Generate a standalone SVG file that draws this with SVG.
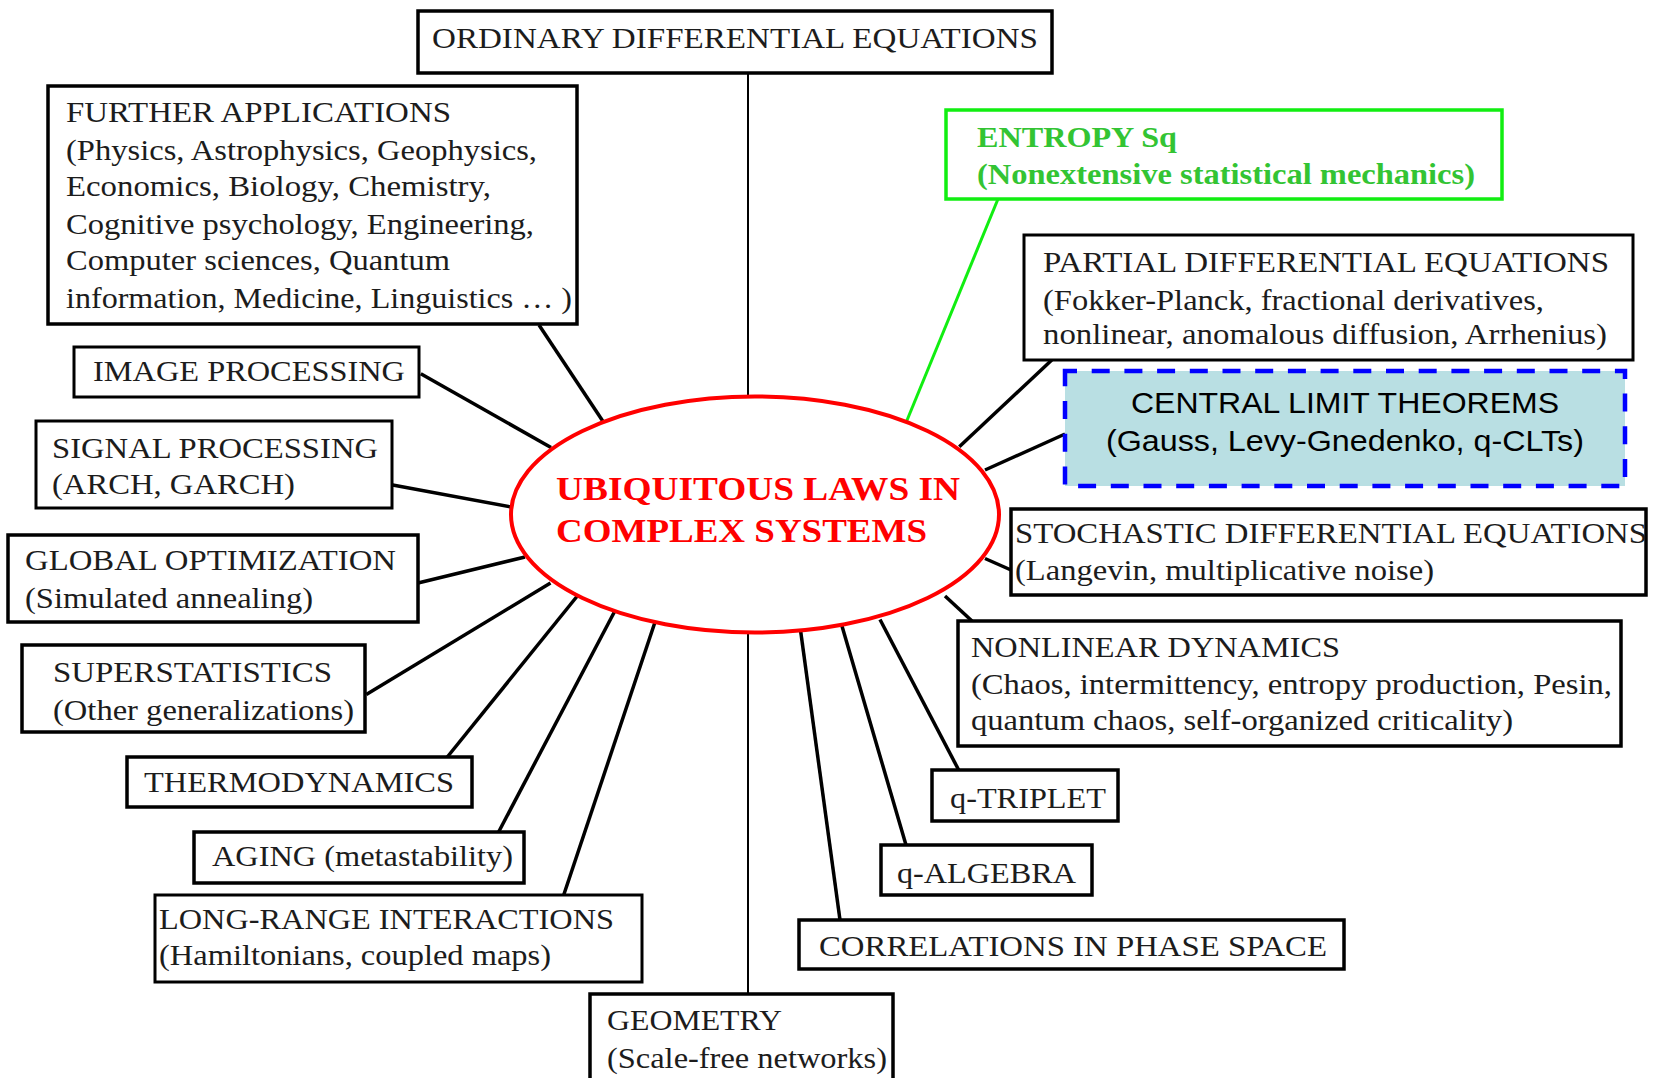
<svg xmlns="http://www.w3.org/2000/svg" width="1654" height="1078" viewBox="0 0 1654 1078">
<style>
.box{fill:#fff;stroke:#000;stroke-width:3.5}
.thin{stroke-width:3}
.t{font-family:"Liberation Serif","Times New Roman",serif;font-size:30px;fill:#1c1c1c}
.conn line{stroke:#000;stroke-width:3.5;stroke-linecap:butt}
.conn line.v{stroke-width:2}
.conn line.g{stroke:#11ee11;stroke-width:3}
.hub{fill:#fff;stroke:#ff0000;stroke-width:4}
.hubt{font-family:"Liberation Serif","Times New Roman",serif;font-size:34px;font-weight:bold;fill:#ff0000}
.gt{font-family:"Liberation Serif","Times New Roman",serif;font-size:30px;font-weight:bold;fill:#33c433}
.clt{fill:#b9dfe3;stroke:#0000ff;stroke-width:4.5;stroke-dasharray:18 14.7;stroke-dashoffset:6}
.st{font-family:"Liberation Sans",Arial,sans-serif;font-size:29px;fill:#000}
</style>
<rect width="1654" height="1078" fill="#fff"/>
<g id="connectors" class="conn">
<line class="v" x1="748" y1="73" x2="748" y2="397"/>
<line class="v" x1="748" y1="631" x2="748" y2="994"/>
<line x1="539" y1="325" x2="603.4" y2="422"/>
<line x1="420.8" y1="373.7" x2="551" y2="447.5"/>
<line x1="392.7" y1="485" x2="511" y2="507"/>
<line x1="418" y1="583" x2="525" y2="557"/>
<line x1="366.3" y1="694.4" x2="550.5" y2="583"/>
<line x1="447.3" y1="757" x2="577.3" y2="596"/>
<line x1="498.6" y1="832" x2="616.7" y2="607.5"/>
<line x1="563.7" y1="895" x2="655.7" y2="620"/>
<line x1="800.5" y1="630" x2="840" y2="920"/>
<line x1="840.5" y1="621" x2="906" y2="845"/>
<line x1="880" y1="619.5" x2="958.7" y2="770"/>
<line x1="945" y1="596" x2="972" y2="621"/>
<line x1="985" y1="558.5" x2="1011" y2="570"/>
<line x1="985" y1="470" x2="1065" y2="434"/>
<line x1="959.3" y1="446.7" x2="1051.8" y2="360"/>
<line class="g" x1="906" y1="422.7" x2="998" y2="199"/>
</g>
<g id="n-ode"><rect class="box" x="418" y="11" width="634" height="62"/>
<text class="t" x="432" y="48" textLength="606" lengthAdjust="spacingAndGlyphs">ORDINARY DIFFERENTIAL EQUATIONS</text></g>
<g id="n-further"><rect class="box" x="48" y="86" width="529" height="238"/>
<text class="t" x="66" y="122" textLength="385" lengthAdjust="spacingAndGlyphs">FURTHER APPLICATIONS</text>
<text class="t" x="66" y="160" textLength="471" lengthAdjust="spacingAndGlyphs">(Physics, Astrophysics, Geophysics,</text>
<text class="t" x="66" y="196" textLength="425" lengthAdjust="spacingAndGlyphs">Economics, Biology, Chemistry,</text>
<text class="t" x="66" y="234" textLength="468" lengthAdjust="spacingAndGlyphs">Cognitive psychology, Engineering,</text>
<text class="t" x="66" y="270" textLength="384" lengthAdjust="spacingAndGlyphs">Computer sciences, Quantum</text>
<text class="t" x="66" y="308" textLength="506" lengthAdjust="spacingAndGlyphs">information, Medicine, Linguistics … )</text></g>
<g id="n-image"><rect class="box thin" x="74" y="347" width="345" height="50"/>
<text class="t" x="93" y="381" textLength="312" lengthAdjust="spacingAndGlyphs">IMAGE PROCESSING</text></g>
<g id="n-signal"><rect class="box thin" x="36" y="421" width="356" height="87"/>
<text class="t" x="52" y="458" textLength="326" lengthAdjust="spacingAndGlyphs">SIGNAL PROCESSING</text>
<text class="t" x="52" y="494" textLength="243" lengthAdjust="spacingAndGlyphs">(ARCH, GARCH)</text></g>
<g id="n-global"><rect class="box" x="8" y="535" width="410" height="87"/>
<text class="t" x="25" y="570" textLength="371" lengthAdjust="spacingAndGlyphs">GLOBAL OPTIMIZATION</text>
<text class="t" x="25" y="608" textLength="288" lengthAdjust="spacingAndGlyphs">(Simulated annealing)</text></g>
<g id="n-super"><rect class="box" x="22" y="645" width="343" height="87"/>
<text class="t" x="53" y="682" textLength="279" lengthAdjust="spacingAndGlyphs">SUPERSTATISTICS</text>
<text class="t" x="53" y="720" textLength="301" lengthAdjust="spacingAndGlyphs">(Other generalizations)</text></g>
<g id="n-thermo"><rect class="box" x="127" y="757" width="345" height="50"/>
<text class="t" x="144" y="792" textLength="310" lengthAdjust="spacingAndGlyphs">THERMODYNAMICS</text></g>
<g id="n-aging"><rect class="box" x="194" y="832" width="330" height="51"/>
<text class="t" x="212" y="866" textLength="301" lengthAdjust="spacingAndGlyphs">AGING (metastability)</text></g>
<g id="n-long"><rect class="box thin" x="155" y="895" width="487" height="87"/>
<text class="t" x="159" y="929" textLength="455" lengthAdjust="spacingAndGlyphs">LONG-RANGE INTERACTIONS</text>
<text class="t" x="159" y="965" textLength="392" lengthAdjust="spacingAndGlyphs">(Hamiltonians, coupled maps)</text></g>
<g id="n-geometry"><rect class="box" x="590" y="994" width="303" height="100"/>
<text class="t" x="607" y="1030" textLength="175" lengthAdjust="spacingAndGlyphs">GEOMETRY</text>
<text class="t" x="607" y="1068" textLength="280" lengthAdjust="spacingAndGlyphs">(Scale-free networks)</text></g>
<g id="n-corr"><rect class="box" x="799" y="920" width="545" height="49"/>
<text class="t" x="819" y="956" textLength="508" lengthAdjust="spacingAndGlyphs">CORRELATIONS IN PHASE SPACE</text></g>
<g id="n-qalg"><rect class="box" x="881" y="845" width="211" height="50"/>
<text class="t" x="897" y="883" textLength="179" lengthAdjust="spacingAndGlyphs">q-ALGEBRA</text></g>
<g id="n-qtrip"><rect class="box" x="932" y="770" width="186" height="51"/>
<text class="t" x="950" y="808" textLength="156" lengthAdjust="spacingAndGlyphs">q-TRIPLET</text></g>
<g id="n-nonlin"><rect class="box" x="958" y="621" width="663" height="125"/>
<text class="t" x="971" y="657" textLength="369" lengthAdjust="spacingAndGlyphs">NONLINEAR DYNAMICS</text>
<text class="t" x="971" y="694" textLength="641" lengthAdjust="spacingAndGlyphs">(Chaos, intermittency, entropy production, Pesin,</text>
<text class="t" x="971" y="730" textLength="542" lengthAdjust="spacingAndGlyphs">quantum chaos, self-organized criticality)</text></g>
<g id="n-stoch"><rect class="box" x="1011" y="509" width="635" height="86"/>
<text class="t" x="1015" y="543" textLength="632" lengthAdjust="spacingAndGlyphs">STOCHASTIC DIFFERENTIAL EQUATIONS</text>
<text class="t" x="1015" y="580" textLength="419" lengthAdjust="spacingAndGlyphs">(Langevin, multiplicative noise)</text></g>
<g id="n-clt"><rect class="clt" x="1065" y="371" width="560" height="115"/>
<text class="st" x="1345" y="413" text-anchor="middle" textLength="428" lengthAdjust="spacingAndGlyphs">CENTRAL LIMIT THEOREMS</text>
<text class="st" x="1345" y="451" text-anchor="middle" textLength="478" lengthAdjust="spacingAndGlyphs">(Gauss, Levy-Gnedenko, q-CLTs)</text></g>
<g id="n-pde"><rect class="box thin" x="1024" y="235" width="609" height="125"/>
<text class="t" x="1043" y="272" textLength="566" lengthAdjust="spacingAndGlyphs">PARTIAL DIFFERENTIAL EQUATIONS</text>
<text class="t" x="1043" y="310" textLength="501" lengthAdjust="spacingAndGlyphs">(Fokker-Planck, fractional derivatives,</text>
<text class="t" x="1043" y="344" textLength="564" lengthAdjust="spacingAndGlyphs">nonlinear, anomalous diffusion, Arrhenius)</text></g>
<g id="n-entropy"><rect x="946" y="110" width="556" height="89" fill="#fff" stroke="#11ee11" stroke-width="3.5"/>
<text class="gt" x="977" y="147" textLength="200" lengthAdjust="spacingAndGlyphs">ENTROPY Sq</text>
<text class="gt" x="977" y="184" textLength="498" lengthAdjust="spacingAndGlyphs">(Nonextensive statistical mechanics)</text></g>
<g id="n-hub"><ellipse class="hub" cx="755" cy="514.5" rx="244" ry="118"/>
<text class="hubt" x="556" y="500" textLength="404" lengthAdjust="spacingAndGlyphs">UBIQUITOUS LAWS IN</text>
<text class="hubt" x="556" y="542" textLength="371" lengthAdjust="spacingAndGlyphs">COMPLEX SYSTEMS</text></g>
</svg>
